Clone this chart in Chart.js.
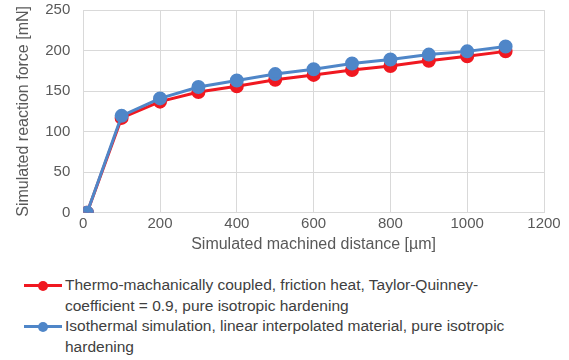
<!DOCTYPE html>
<html>
<head>
<meta charset="utf-8">
<script src="https://cdn.jsdelivr.net/npm/chart.js@4"></script>
<style>
  body { margin: 0; background: #fff; font-family: "Liberation Sans", Arial, sans-serif; }
  #wrap { width: 569px; height: 258px; }
  #legend { margin: 17px 0 0 24px; color: #404040; font-size: 15.5px; line-height: 20.5px; }
  .item { display: flex; align-items: flex-start; }
  .mark { position: relative; width: 38px; height: 20px; flex: none; margin-right: 3px; }
  .mark .ln { position: absolute; left: 0; right: 0; top: 9px; height: 3px; }
  .mark .dot { position: absolute; left: 14px; top: 6px; width: 10px; height: 10px; border-radius: 50%; }
</style>
</head>
<body>
<div id="wrap"><canvas id="grafico"></canvas></div>
<div id="legend"></div>
<script>
const distancia = [10, 100, 200, 300, 400, 500, 600, 700, 800, 900, 1000, 1100]
const forcaTermo = [0, 117, 137, 149, 156, 164, 170, 176, 181, 187.5, 193, 199]
const forcaIso = [0, 119.5, 141, 155, 163, 171, 177, 184, 189, 195, 199, 205]
const nomeTermo = 'Thermo-machanically coupled, friction heat, Taylor-Quinney-<br>coefficient = 0.9, pure isotropic hardening'
const nomeIso = 'Isothermal simulation, linear interpolated material, pure isotropic<br>hardening'

const vermelho = '#f01820'
const azul = '#4f86c8'
const fonte = "'Liberation Sans', Arial, sans-serif"

function pontos(ys) {
	return distancia.map((x, i) => ({ x: x, y: ys[i] }))
}

var ctx = document.getElementById('grafico').getContext('2d')
new Chart(ctx, {
	type: 'line',
	data: {
		datasets: [{
				label: 'Thermo',
				data: pontos(forcaTermo),
				borderColor: vermelho,
				backgroundColor: vermelho,
				borderWidth: 3,
				pointRadius: 5.5,
				pointHoverRadius: 5.5,
				order: 2
			},
			{
				// azul fica por cima, como no original
				label: 'Iso',
				data: pontos(forcaIso),
				borderColor: azul,
				backgroundColor: azul,
				borderWidth: 3,
				pointRadius: 5.5,
				pointHoverRadius: 5.5,
				order: 1
		}]
	},
	options: {
		responsive: true,
		maintainAspectRatio: false,
		animation: false,
		layout: { padding: { top: 0, right: 25, left: 14 } },
		plugins: {
			legend: { display: false },
			tooltip: { enabled: false }
		},
		scales: {
			x: {
				type: 'linear',
				min: 0, max: 1200,
				ticks: { stepSize: 200, color: '#595959', font: { family: fonte, size: 15 }, padding: 2,
					callback: v => String(v) },
				grid: { color: '#d9d9d9', drawTicks: false },
				border: { color: '#d9d9d9' },
				title: { display: true, text: 'Simulated machined distance [µm]', color: '#595959',
					font: { family: fonte, size: 16 }, padding: { top: 0 } }
			},
			y: {
				min: 0, max: 250,
				// espaco entre label e eixo via tick invisivel, senao o padding empurra o topo do grafico
				ticks: { stepSize: 50, color: '#595959', font: { family: fonte, size: 15 }, padding: 1 },
				grid: { color: '#d9d9d9', drawTicks: true, tickLength: 12, tickColor: 'rgba(0,0,0,0)' },
				border: { color: '#d9d9d9' },
				title: { display: true, text: 'Simulated reaction force [mN]', color: '#595959',
					font: { family: fonte, size: 16 }, padding: { top: 0, bottom: 11 } }
			}
		}
	}
})

// legenda em HTML pra quebrar linha igual ao original
var itens = [[vermelho, nomeTermo], [azul, nomeIso]]
document.getElementById('legend').innerHTML = itens.map(it =>
	'<div class="item"><div class="mark"><div class="ln" style="background:' + it[0] + '"></div>' +
	'<div class="dot" style="background:' + it[0] + '"></div></div><div>' + it[1] + '</div></div>'
).join('')
</script>
</body>
</html>
